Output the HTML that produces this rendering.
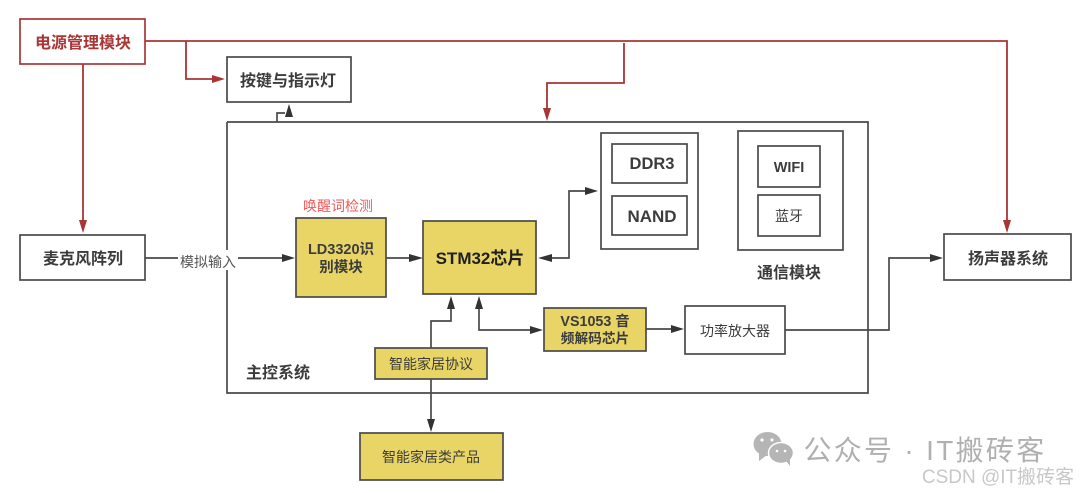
<!DOCTYPE html>
<html><head><meta charset="utf-8"><style>
html,body{margin:0;padding:0;background:#fff}
svg{display:block;filter:blur(.35px)}
text{font-family:"Liberation Sans","Noto Sans CJK SC",sans-serif;text-anchor:middle;fill:#3c3c3c}
.b{font-weight:bold}
</style></head><body>
<svg width="1080" height="493" viewBox="0 0 1080 493" xmlns="http://www.w3.org/2000/svg">
<rect width="1080" height="493" fill="#fff"/>
<g fill="none" stroke="#4a4a4a" stroke-width="1.7">
<path d="M145 258H178M238 258H287" />
<path d="M227 122V250M227 270V393H868V122H227"/>
<path d="M277 122V113H285"/>
<path d="M386 258H414"/>
<path d="M548 258H569V191H592"/>
<path d="M431 348V321H451V304"/>
<path d="M479 304V330H535"/>
<path d="M646 329H675"/>
<path d="M785 330H889V258H934"/>
<path d="M431 379V424"/>
</g>
<g fill="none" stroke="#a93535" stroke-width="1.8">
<path d="M145 41H1007V226"/>
<path d="M186 41V79H218"/>
<path d="M83 64V226"/>
<path d="M624 43V83H547V112"/>
</g>
<g fill="#a93535">
<path d="M225 79L212 75V83Z"/>
<path d="M83 233L79 220H87Z"/>
<path d="M547 121L543 108H551Z"/>
<path d="M1007 233L1003 220H1011Z"/>
</g>
<g stroke="#4a4a4a" stroke-width="1.7" fill="#fff">
<rect x="227" y="57" width="124" height="45"/>
<rect x="20" y="235" width="125" height="45"/>
<rect x="601" y="133" width="97" height="116"/>
<rect x="612" y="144" width="75" height="39"/>
<rect x="612" y="196" width="75" height="39"/>
<rect x="738" y="131" width="105" height="119"/>
<rect x="758" y="146" width="62" height="41"/>
<rect x="758" y="195" width="62" height="41"/>
<rect x="685" y="306" width="100" height="48"/>
<rect x="944" y="234" width="127" height="46"/>
</g>
<rect x="20" y="19" width="125" height="45" fill="#fff" stroke="#a93535" stroke-width="1.7"/>
<g stroke="#4a4a4a" stroke-width="1.7" fill="#e8d566">
<rect x="296" y="218" width="90" height="79"/>
<rect x="423" y="221" width="113" height="73"/>
<rect x="544" y="308" width="102" height="43"/>
<rect x="375" y="348" width="112" height="31"/>
<rect x="360" y="433" width="143" height="47"/>
</g>
<g fill="#333">
<path d="M295 258L282 254V262Z"/>
<path d="M423 258L409 254V262Z"/>
<path d="M538 258L552 254V262Z"/>
<path d="M598 191L585 187V195Z"/>
<path d="M451 296L447 309H455Z"/>
<path d="M479 296L475 309H483Z"/>
<path d="M543 330L530 326V334Z"/>
<path d="M684 329L671 325V333Z"/>
<path d="M943 258L930 254V262Z"/>
<path d="M431 432L427 419H435Z"/>
<path d="M289 104L285 117H293Z"/>
</g>
<text x="83" y="48" font-size="16" class="b" style="fill:#a93535">电源管理模块</text>
<text x="288" y="86" font-size="16" class="b">按键与指示灯</text>
<text x="83" y="264" font-size="16" class="b">麦克风阵列</text>
<text x="208" y="267" font-size="14" style="fill:#555">模拟输入</text>
<text x="338" y="211" font-size="14" style="fill:#ee5a5a">唤醒词检测</text>
<text x="341" y="254" font-size="14.5" class="b">LD3320识</text>
<text x="341" y="272" font-size="14.5" class="b">别模块</text>
<text x="480" y="264" font-size="17" class="b" style="fill:#1e1e1e">STM32芯片</text>
<text x="652" y="169" font-size="16.5" class="b">DDR3</text>
<text x="652" y="222" font-size="17" class="b">NAND</text>
<text x="789" y="172" font-size="14.5" class="b">WIFI</text>
<text x="789" y="221" font-size="14">蓝牙</text>
<text x="789" y="278" font-size="16" class="b">通信模块</text>
<text x="595" y="326" font-size="14.3" class="b">VS1053 音</text>
<text x="595" y="343" font-size="13.7" class="b">频解码芯片</text>
<text x="735" y="336" font-size="14">功率放大器</text>
<text x="431" y="369" font-size="14">智能家居协议</text>
<text x="431" y="462" font-size="14">智能家居类产品</text>
<text x="278" y="378" font-size="16" class="b">主控系统</text>
<text x="1008" y="264" font-size="16" class="b">扬声器系统</text>
<g fill="#b5b5b5">
<ellipse cx="767.5" cy="444" rx="14" ry="12"/>
<path d="M759 453L759 461L767 455Z"/>
<ellipse cx="781" cy="453" rx="12.5" ry="10.5" stroke="#fff" stroke-width="1.5"/>
<path d="M786 461L790 466L790 459Z"/>
</g>
<g fill="#fff"><circle cx="762" cy="440" r="1.6"/><circle cx="772" cy="440" r="1.6"/><circle cx="777" cy="451" r="1.3"/><circle cx="785" cy="451" r="1.3"/></g>
<text x="925" y="460" font-size="28" style="fill:#b0b0b0;letter-spacing:2.3px">公众号 · IT搬砖客</text>
<text x="998" y="483" font-size="19" style="fill:#c8c8c8">CSDN @IT搬砖客</text>
</svg>
</body></html>
